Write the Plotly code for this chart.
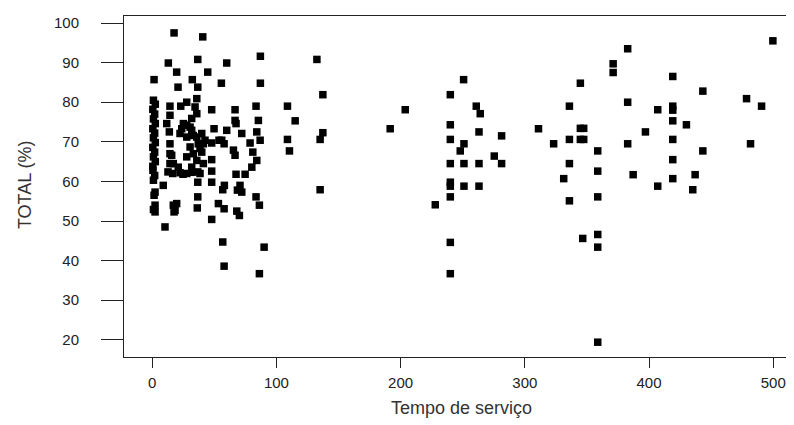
import plotly.graph_objects as go

# Tempo de serviço (x) and TOTAL (%) (y)
tempo = [
    1.5, 1, 2.5, 0.5, 2, 1, 2.5, 0.5, 2, 1, 2.5, 0.5, 2, 1, 2.5, 0.5, 0.6, 2, 1, 2.3, 1.5, 2.3, 1, 2.3,
    8.9, 10.3, 11.7, 12.7, 13, 14.3, 14.3, 13.8, 14.3, 14.3, 15.7, 14.3, 17, 16.5, 17.6, 19.7, 20.8, 23,
    17, 19.7, 18.4, 17.6, 21, 22.4, 22.4, 23.8, 25.1, 24.8,
    27.8, 27.8, 27.8, 27.8, 27.8, 30.5, 30.5, 31.8, 31.8, 31.8, 31.8, 32.3, 33.1, 33.1, 34.5, 35.9, 35.9,
    35.9, 35.9, 36.7, 36.7, 36.7, 36.7, 36.7, 36.3, 37.1, 38.5, 38.5, 39.9, 39.9, 40.7, 41.2, 41.2, 42.5, 44.7,
    47.9, 47.9, 47.9, 47.9, 47.9, 47.9, 49.8, 53.3, 53.8, 55.7, 56, 56.8, 56.8, 57.9, 57.9, 57.9, 58.1, 60, 60,
    65.4, 66.7, 66.7, 66.7, 67.5, 67.5, 68.1, 68.6, 70.2, 70.7, 72.1, 72.1, 74.8,
    78.8, 80.2, 81, 83.6, 83.6, 84.2, 85.5, 84.2, 86.9, 86.3, 86.3, 87.1, 87.1, 90.1,
    108.9, 115.1, 108.9, 110.5, 132.6, 137.4, 137.4, 135.2, 135.2,
    191.6, 203.7,
    227.9, 240, 240, 240, 240, 240, 240, 240, 240, 240, 250.7, 251, 248, 251, 251, 260.9, 264.1, 263.1,
    263.1, 263.1, 275.4, 281.3, 281.3,
    311, 323.2, 331.3, 335.9, 335.9, 335.9, 335.9, 344.7, 344.7, 347.4, 344.7, 347.4, 346.6, 358.7, 358.7,
    358.7, 358.7, 358.7, 358.7, 371.1, 371.1, 382.8, 382.8, 382.8, 387.2, 397.1, 407, 407, 419.1, 419.1,
    419.1, 419.1, 419.1, 419.1, 419.1, 430.1, 435.2, 437.1, 443.3, 443.3, 478.5, 481.7, 490.6, 499.7,
]
total = [
    85.7, 80.5, 79.5, 78.2, 77, 75.8, 74.6, 73.3, 72.2, 71, 69.8, 68.6, 67.4, 66.2, 65, 63.8, 62.8, 61.5, 60.3, 57.3, 56.5, 54, 52.9, 52.3,
    59, 48.5, 74.6, 62.4, 89.9, 79, 76.7, 72.5, 69.5, 67, 66.6, 64.5, 64.5, 62, 97.5, 87.6, 83.8, 79,
    54, 54.4, 52.7, 52.3, 63.6, 62.2, 72.1, 73.3, 74.6, 61.8,
    80, 74.2, 71.2, 66.2, 62, 73.7, 68.7, 75.9, 72.9, 63.6, 62.3, 85.7, 71.6, 67, 78.8, 80.9, 77.1,
    71.2, 65.3, 90.8, 83.8, 62.4, 59.8, 56.1, 53.3, 69.5, 68.3, 62, 72.1, 67.4, 96.5, 64.5, 69.5, 70.4, 87.6,
    78.1, 69.7, 65.5, 62.6, 59.8, 50.4, 73.3, 54.4, 70.4, 84.8, 70.4, 57.9, 44.7, 69.5, 53.1, 38.6, 59, 89.9, 72.9,
    67.9, 78.1, 75.4, 66.6, 74.6, 61.8, 52.5, 57.8, 51.4, 59, 72.1, 57.3, 61.8,
    69.7, 63.6, 67.4, 79, 56.1, 65.3, 75.4, 72.5, 70.4, 54, 36.7, 91.6, 84.8, 43.4,
    79, 75.3, 70.6, 67.7, 90.8, 81.9, 72.3, 70.6, 57.9,
    73.3, 78.1,
    54.1, 81.9, 74.3, 70.6, 64.5, 59.8, 58.8, 56.1, 44.6, 36.7, 85.7, 69.5, 67.7, 64.5, 58.8, 79, 77.1, 72.5,
    64.5, 58.8, 66.4, 71.5, 64.5,
    73.3, 69.5, 60.7, 79, 70.6, 64.5, 55.1, 84.8, 73.4, 73.4, 70.6, 70.6, 45.6, 67.7, 62.6,
    56.1, 46.6, 43.4, 19.4, 89.7, 87.5, 93.5, 80, 69.5, 61.7, 72.5, 78.1, 58.8, 86.5, 79,
    78, 75.3, 70.6, 65.5, 60.7, 74.3, 57.9, 61.7, 82.8, 67.7, 80.9, 69.5, 79, 95.5,
]

x_ticks = [0, 100, 200, 300, 400, 500]
y_ticks = [20, 30, 40, 50, 60, 70, 80, 90, 100]

FONT = "Arial, Liberation Sans, sans-serif"

fig = go.Figure(
    go.Scatter(
        x=tempo, y=total, mode="markers",
        marker=dict(symbol="square", size=7.5, color="black", line=dict(width=0)),
        hoverinfo="x+y",
    )
)

# the page body has an 8 px default margin, so the figure is 8 px smaller
fig.update_layout(
    width=786, height=417,
    margin=dict(l=116, r=0, t=8, b=68),
    paper_bgcolor="white", plot_bgcolor="white",
    showlegend=False,
    font=dict(family=FONT, color="#222222"),
    xaxis=dict(
        range=[-22.7, 516.7], tickmode="array", tickvals=x_ticks,
        ticktext=[str(v) for v in x_ticks],
        showgrid=False, zeroline=False,
        showline=True, mirror=True, linecolor="#222222", linewidth=1,
        ticks="outside", ticklen=10, tickwidth=1, tickcolor="#222222",
        tickfont=dict(size=15, family=FONT, color="#222222"),
        ticklabelstandoff=2,
    ),
    yaxis=dict(
        range=[15.66, 101.77], tickmode="array", tickvals=y_ticks,
        ticktext=[str(v) for v in y_ticks],
        showgrid=False, zeroline=False,
        showline=True, mirror=False, linecolor="#222222", linewidth=1,
        ticks="outside", ticklen=22, tickwidth=1, tickcolor="#222222",
        tickfont=dict(size=15, family=FONT, color="#222222"),
        ticklabelstandoff=19,
    ),
    annotations=[
        dict(text="Tempo de serviço", xref="paper", yref="paper",
             x=0.503, y=-0.1496, xanchor="center", yanchor="middle",
             showarrow=False, font=dict(size=18, family=FONT, color="#333333")),
        dict(text="TOTAL (%)", xref="paper", yref="paper",
             x=-0.1478, y=0.507, xanchor="center", yanchor="middle", textangle=-90,
             showarrow=False, font=dict(size=18, family=FONT, color="#333333")),
    ],
)

fig.write_html("out.html")
